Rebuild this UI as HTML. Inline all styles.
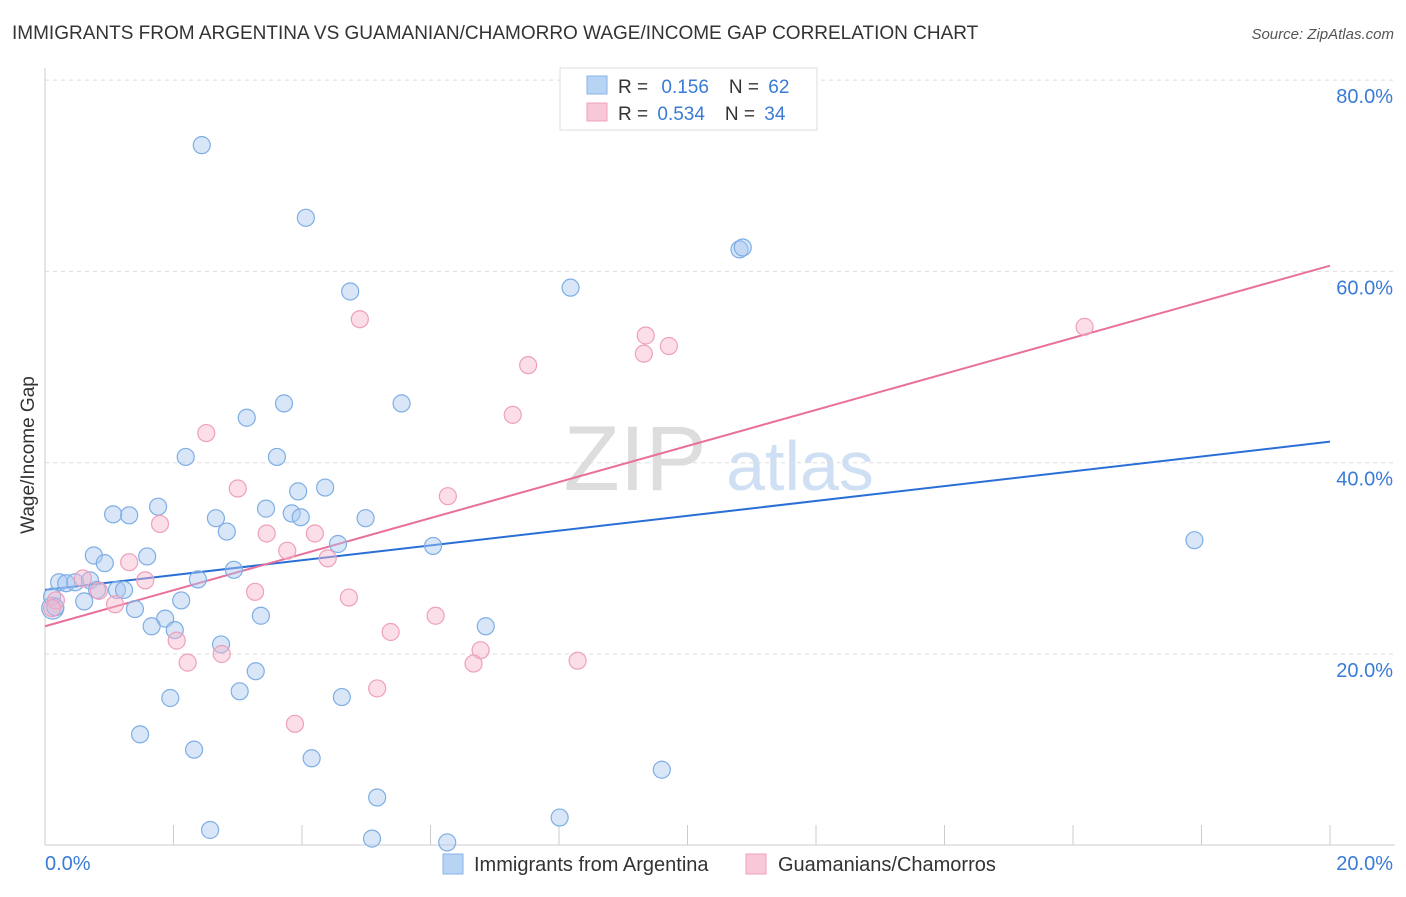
<!DOCTYPE html>
<html><head><meta charset="utf-8"><style>
body{margin:0;background:#fff;font-family:"Liberation Sans",sans-serif;}
svg text{font-family:"Liberation Sans",sans-serif;}
</style></head><body>
<svg id="chart" width="1406" height="892" xmlns="http://www.w3.org/2000/svg">
<text x="12" y="39" font-size="19" fill="#333">IMMIGRANTS FROM ARGENTINA VS GUAMANIAN/CHAMORRO WAGE/INCOME GAP CORRELATION CHART</text>
<text x="1394" y="39" font-size="15" fill="#555" text-anchor="end" font-style="italic">Source: ZipAtlas.com</text>
<g>
<text x="635" y="490" font-size="92" fill="#ddd" text-anchor="middle" font-family="Liberation Serif,serif">ZIP</text>
<text x="800" y="490" font-size="70" fill="#cfe0f4" text-anchor="middle">atlas</text>
</g>
<g id="grid"></g><g id="axes"></g><g id="lines"></g><g id="points"></g>
<text x="34" y="455" font-size="19" fill="#333" text-anchor="middle" transform="rotate(-90 34 455)">Wage/Income Gap</text>
<g>
<rect x="560" y="68" width="257" height="62" fill="#fff" stroke="#ddd"/>
<rect x="587" y="76" width="20" height="18" fill="#b8d4f4" stroke="#8ab4e8"/>
<text x="618" y="93" font-size="19" fill="#333">R = <tspan fill="#3a7bd5" dx="8">0.156</tspan><tspan dx="20" fill="#333">N = </tspan><tspan fill="#3a7bd5" dx="4">62</tspan></text>
<rect x="587" y="103" width="20" height="18" fill="#f9c8d8" stroke="#f0a0bc"/>
<text x="618" y="120" font-size="19" fill="#333">R = <tspan fill="#3a7bd5" dx="4">0.534</tspan><tspan dx="20" fill="#333">N = </tspan><tspan fill="#3a7bd5" dx="4">34</tspan></text>
</g>
<g>
<rect x="443" y="854" width="20" height="20" fill="#b8d4f4" stroke="#8ab4e8"/>
<text x="474" y="871" font-size="20" fill="#333">Immigrants from Argentina</text>
<rect x="746" y="854" width="20" height="20" fill="#f9c8d8" stroke="#f0a0bc"/>
<text x="778" y="871" font-size="20" fill="#333">Guamanians/Chamorros</text>
</g>
</svg>
<script>
const blueX=[2.44,4.06,4.75,8.18,10.81,10.86,3.14,3.72,5.55,2.19,3.61,1.06,1.31,1.76,2.66,2.83,3.44,3.94,4.36,3.84,3.98,4.99,4.56,6.04,17.89,0.76,1.59,0.93,2.94,2.38,0.22,0.33,0.47,0.70,1.12,1.23,0.81,0.11,0.61,2.12,1.40,0.16,1.87,1.66,3.36,2.02,6.86,2.74,3.28,1.95,3.03,4.62,1.48,2.32,4.15,9.60,5.17,2.57,5.09,6.26,8.01];
const blueY=[73.2,65.6,57.9,58.3,62.3,62.5,44.7,46.2,46.2,40.6,40.6,34.6,34.5,35.4,34.2,32.8,35.2,37.0,37.4,34.7,34.3,34.2,31.5,31.3,31.9,30.3,30.2,29.5,28.8,27.8,27.5,27.4,27.5,27.7,26.7,26.7,26.7,26.0,25.5,25.6,24.7,24.9,23.7,22.9,24.0,22.5,22.9,21.0,18.2,15.4,16.1,15.5,11.6,10.0,9.1,7.9,5.0,1.6,0.7,0.3,2.9];
const pinkX=[16.18,4.90,9.35,9.32,9.71,7.52,7.28,2.51,3.00,6.27,1.79,3.45,4.20,3.77,4.40,1.31,1.56,0.59,0.84,3.27,4.73,1.09,0.17,0.11,6.08,5.38,2.05,2.75,6.78,2.22,6.67,8.29,5.17,3.89];
const pinkY=[54.2,55.0,53.3,51.4,52.2,50.2,45.0,43.1,37.3,36.5,33.6,32.6,32.6,30.8,30.0,29.6,27.7,27.9,26.6,26.5,25.9,25.2,25.6,24.8,24.0,22.3,21.4,20.0,20.4,19.1,19.0,19.3,16.4,12.7];
const bigX=[0.12];
const bigY=[24.8];
const blueTrend=[26.7,42.2];
const pinkTrend=[22.9,60.6];
const yTicks=[20,40,60,80];
const xTickVals=[0,2,4,6,8,10,12,14,16,18,20];
const NS="http://www.w3.org/2000/svg";
const sx=v=>45+v/20*1285;
const sy=v=>845.3-v/20*191.3;
function mk(parent,tag,attrs){const e=document.createElementNS(NS,tag);for(const k in attrs)e.setAttribute(k,attrs[k]);document.getElementById(parent).appendChild(e);return e;}
yTicks.forEach(t=>{
 const l=mk('grid','line',{x1:45,x2:1395,y1:sy(t),y2:sy(t),stroke:'#ddd','stroke-dasharray':'4,4'});
 
 
 const tx=mk('grid','text',{x:1393,y:sy(t)+23,'font-size':20,fill:'#3a7bd5','text-anchor':'end'});
 tx.textContent=t.toFixed(1)+'%';
 
 
});
const ax=mk('axes','line',{x1:45,x2:1395,y1:845,y2:845,stroke:'#ccc'});


const ay=mk('axes','line',{x1:45,x2:45,y1:68,y2:845,stroke:'#ccc'});


xTickVals.forEach(t=>{
 const l=mk('axes','line',{x1:sx(t),x2:sx(t),y1:825,y2:845,stroke:'#ccc'});
 
 
});
const xl0=mk('axes','text',{x:45,y:870,'font-size':20,fill:'#3a7bd5'});xl0.textContent=xTickVals[0].toFixed(1)+'%';


const xl1=mk('axes','text',{x:1393,y:870,'font-size':20,fill:'#3a7bd5','text-anchor':'end'});xl1.textContent=xTickVals[xTickVals.length-1].toFixed(1)+'%';


function dots(xs,ys,fill,stroke,name,r){xs.forEach((x,i)=>{
 const c=mk('points','circle',{cx:sx(x),cy:sy(ys[i]),r:r,fill:fill,stroke:stroke,'stroke-width':1.2});
 
 
});}
dots(bigX,bigY,'rgba(168,200,240,0.45)','#7eaee6','argentina-large-point',11);
dots(blueX,blueY,'rgba(168,200,240,0.45)','#7eaee6','argentina-point',8.5);
dots(pinkX,pinkY,'rgba(246,182,204,0.45)','#eea0bc','guamanian-point',8.5);
const bl=mk('lines','line',{x1:sx(0),y1:sy(blueTrend[0]),x2:sx(20),y2:sy(blueTrend[1]),stroke:'#2a6fd6','stroke-width':2});


const pl=mk('lines','line',{x1:sx(0),y1:sy(pinkTrend[0]),x2:sx(20),y2:sy(pinkTrend[1]),stroke:'#e8709a','stroke-width':2});


</script>
</body></html>
